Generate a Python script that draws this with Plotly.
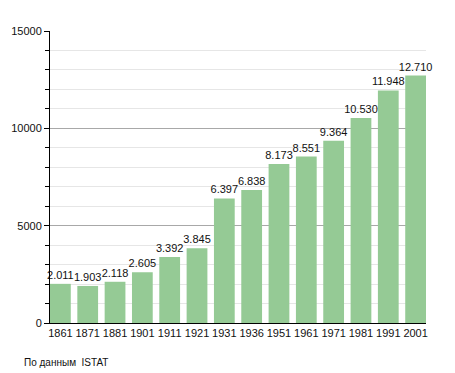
import plotly.graph_objects as go

years = ["1861", "1871", "1881", "1901", "1911", "1921", "1931", "1936", "1951", "1961", "1971", "1981", "1991", "2001"]
population = [2011, 1903, 2118, 2605, 3392, 3845, 6397, 6838, 8173, 8551, 9364, 10530, 11948, 12710]
labels = ["2.011", "1.903", "2.118", "2.605", "3.392", "3.845", "6.397", "6.838", "8.173", "8.551", "9.364", "10.530", "11.948", "12.710"]
y_ticks = [0, 5000, 10000, 15000]

xpos = list(range(len(years)))

fig = go.Figure(go.Bar(
    x=xpos, y=population, text=labels, textposition="outside",
    constraintext="none",
    textfont=dict(family="Liberation Sans, Arial, sans-serif", size=11, color="#111"),
    marker=dict(color="#95ca95", line=dict(width=0)),
    cliponaxis=False, hoverinfo="skip",
))

fig.update_layout(
    width=455, height=373,
    margin=dict(l=50, r=29, t=31, b=50, autoexpand=False),
    paper_bgcolor="white", plot_bgcolor="white",
    bargap=0.24, showlegend=False,
    font=dict(family="Liberation Sans, Arial, sans-serif", size=11, color="#111"),
    annotations=[dict(text="По данным  ISTAT", xref="paper", yref="paper",
                      x=-28/376, y=-39/292,
                      xanchor="left", yanchor="middle", showarrow=False,
                      font=dict(size=10, color="#111"))],
)

fig.update_xaxes(
    range=[-0.38, 13.38], tickvals=xpos, ticktext=years, tickangle=0,
    showline=True, linecolor="black", linewidth=1, ticks="", showgrid=False,
    zeroline=False, tickfont=dict(size=11), automargin=False,
)
fig.update_yaxes(
    range=[0, 15000], tickvals=y_ticks, ticktext=[str(v) for v in y_ticks],
    showline=True, linecolor="black", linewidth=1,
    ticks="outside", ticklen=5, tickcolor="black",
    showgrid=True, gridcolor="#a8a8a8", gridwidth=1, zeroline=False,
    minor=dict(dtick=1000, ticks="outside", ticklen=4, tickcolor="black",
               showgrid=True, gridcolor="#e6e6e6", gridwidth=1),
    tickfont=dict(size=11), automargin=False,
)

fig.write_html("out.html", config={"displayModeBar": False},
               post_script="document.body.style.margin='0';document.body.style.overflow='hidden';")
